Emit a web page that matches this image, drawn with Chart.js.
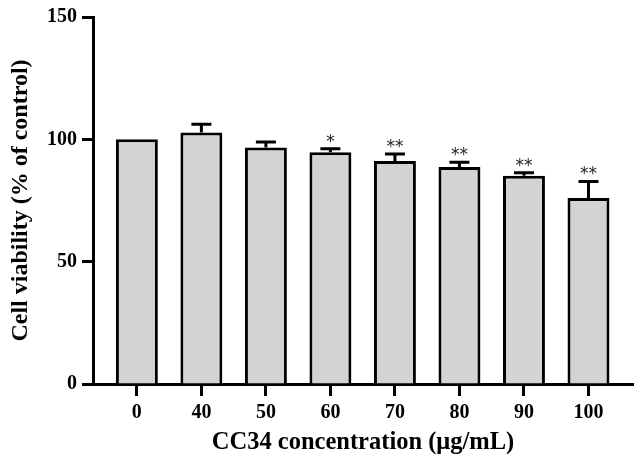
<!DOCTYPE html>
<html>
<head>
<meta charset="utf-8">
<script src="https://cdn.jsdelivr.net/npm/chart.js@4.4.1/dist/chart.umd.min.js"></script>
<style>
  html, body { margin: 0; padding: 0; background: #fff; }
  #wrap { width: 644px; height: 461px; }
</style>
</head>
<body>
<div id="wrap"><canvas id="barChart" width="644" height="461"></canvas></div>
<script>
// data
const concentrations = ['0', '40', '50', '60', '70', '80', '90', '100'];
const viability = [100, 102.8, 96.7, 94.7, 91.1, 88.7, 85.1, 76.0];
const errorUpper = [0, 3.4, 2.2, 1.5, 2.9, 1.9, 1.2, 6.8];
const significance = ['', '', '', '*', '**', '**', '**', '**'];
const yTicks = [0, 50, 100, 150];

const serif = '"Liberation Serif", "Times New Roman", serif';

// error bars (upper only) + asterisks
const errorBarPlugin = {
    id: 'errorBars',
    afterDatasetsDraw(chart) {
        const ctx = chart.ctx;
        const x = chart.scales.x;
        const y = chart.scales.y;
        ctx.save();
        ctx.strokeStyle = '#000';
        ctx.lineWidth = 3;
        viability.forEach((v, i) => {
            const px = x.getPixelForValue(i);
            const top = y.getPixelForValue(v);
            const errTop = y.getPixelForValue(v + errorUpper[i]);
            if (errorUpper[i] > 0) {
                ctx.beginPath();
                ctx.moveTo(px, top);
                ctx.lineTo(px, errTop);
                ctx.moveTo(px - 10, errTop);
                ctx.lineTo(px + 10, errTop);
                ctx.stroke();
            }
            if (significance[i]) {
                ctx.fillStyle = '#222';
                ctx.font = '17px "DejaVu Sans", sans-serif';
                ctx.textAlign = 'center';
                ctx.textBaseline = 'alphabetic';
                ctx.fillText(significance[i], px, errTop - 2);
            }
        });
        ctx.restore();
    }
};

const ctx = document.getElementById('barChart').getContext('2d');
new Chart(ctx, {
    type: 'bar',
    data: {
        datasets: [{
            data: viability.map((v, i) => ({ x: i, y: v })),
            backgroundColor: '#d3d3d3',
            borderColor: '#000',
            borderWidth: 3,
            barPercentage: 1,
            categoryPercentage: 0.65
        }]
    },
    options: {
        responsive: false,
        animation: false,
        layout: { padding: { top: 14, right: 11, left: 0, bottom: 0 } },
        plugins: {
            legend: { display: false },
            tooltip: { enabled: false }
        },
        scales: {
            x: {
                type: 'linear',
                offset: false,
                min: -0.68,
                max: 7.69,
                afterBuildTicks: scale => {
                    scale.ticks = concentrations.map((_, i) => ({ value: i }));
                },
                afterFit: scale => { scale.height = 77; },
                border: { color: '#000', width: 3 },
                grid: { offset: false, drawOnChartArea: false, drawTicks: true, tickLength: 12, tickWidth: 3, tickColor: '#000' },
                ticks: {
                    color: '#000',
                    padding: 5,
                    font: { family: serif, size: 20, weight: 'bold' },
                    callback: value => concentrations[value]
                },
                title: {
                    display: true,
                    text: 'CC34 concentration (μg/mL)',
                    color: '#000',
                    font: { family: serif, size: 24.5, weight: 'bold' },
                    padding: { top: 0 }
                }
            },
            y: {
                min: 0,
                max: 150,
                afterBuildTicks: scale => {
                    scale.ticks = yTicks.map(v => ({ value: v }));
                },
                afterFit: scale => { scale.width = 93; },
                border: { color: '#000', width: 3 },
                grid: { drawOnChartArea: false, drawTicks: true, tickLength: 11, tickWidth: 3, tickColor: '#000' },
                ticks: {
                    color: '#000',
                    padding: 5,
                    font: { family: serif, size: 20, weight: 'bold' }
                },
                title: {
                    display: true,
                    text: 'Cell viability (% of control)',
                    color: '#000',
                    font: { family: serif, size: 24, weight: 'bold' },
                    padding: { top: 6 }
                }
            }
        }
    },
    plugins: [errorBarPlugin]
});
</script>
</body>
</html>
